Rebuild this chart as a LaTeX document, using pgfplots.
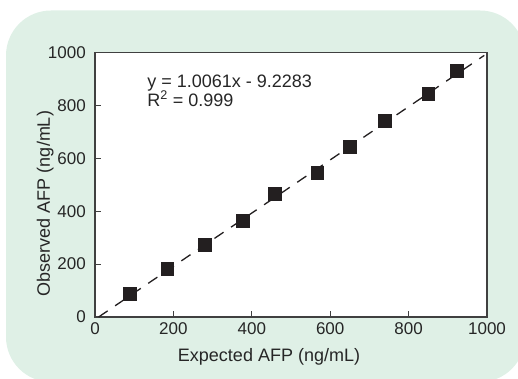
\documentclass[border=0pt]{standalone}
\usepackage{fontspec}
\setmainfont{Liberation Sans}
\usepackage{pgfplots}
\pgfplotsset{compat=1.18}
\definecolor{bg}{RGB}{223,240,230}
\definecolor{ink}{RGB}{35,31,32}
\begin{document}
\begin{tikzpicture}
\useasboundingbox (0pt,0pt) rectangle (518pt,379pt);
\begin{scope}
\clip (0pt,0pt) rectangle (518pt,379pt);
\fill[bg, rounded corners=45pt] (6pt,-3pt) rectangle (525pt,368.5pt);
\end{scope}
\begin{axis}[
  at={(95pt,62pt)}, anchor=south west,
  scale only axis, width=392pt, height=264.3pt,
  xmin=0, xmax=1000, ymin=0, ymax=1000,
  xtick={0,200,...,1000}, ytick={0,200,...,1000},
  tick align=inside, xtick pos=bottom, ytick pos=left, major tick length=6pt,
  axis line style={black!75, line width=1.2pt},
  tick style={black!75, line width=1pt},
  axis background/.style={fill=white},
  /pgf/number format/assume math mode=true,
  /pgf/number format/1000 sep={},
  ticklabel style={font=\fontsize{17}{20}\selectfont, text=black!85},
  xticklabel style={anchor=north, inner sep=0pt, yshift=-5pt},
  yticklabel style={anchor=east, inner sep=0pt, xshift=-9pt},
  label style={font=\fontsize{18}{21}\selectfont, text=black!85},
  xlabel={Expected AFP (ng/mL)},
  ylabel={Observed AFP (ng/mL)},
  xlabel style={at={(axis description cs:0.4439,-0.1665)}, anchor=base},
  ylabel style={at={(axis description cs:-0.1148,0.4294)}, anchor=base},
  clip=false,
]
\addplot[ink, line width=1.3pt, dash pattern=on 11pt off 9pt] coordinates {(9.17,0) (993,989.8)};
\addplot[only marks, mark=square*, mark size=6.4pt, ink] coordinates {
(89,87) (184,182) (280,275) (377,364) (459,468) (567,547) (649,644) (738,742) (850,844) (922,931)};
\node[anchor=base west, font=\fontsize{18}{21}\selectfont, text=black!85, inner sep=0pt] at (axis cs:133,869) {y = 1.0061x - 9.2283};
\node[anchor=base west, font=\fontsize{18}{21}\selectfont, text=black!85, inner sep=0pt] at (axis cs:133,798) {R\textsuperscript{2} = 0.999};
\end{axis}
\end{tikzpicture}
\end{document}
